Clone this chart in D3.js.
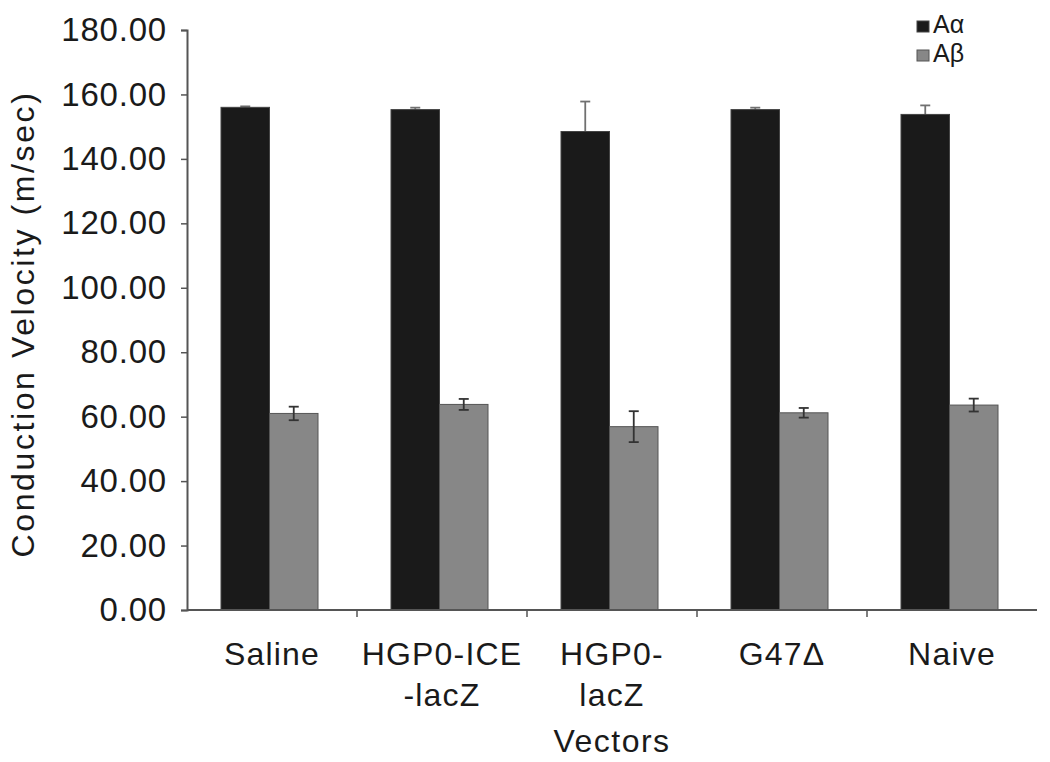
<!DOCTYPE html>
<html><head><meta charset="utf-8">
<script src="https://cdn.jsdelivr.net/npm/d3@7"></script>
<style>
body{margin:0;background:#fff;}
text{font-family:"Liberation Sans",Arial,Helvetica,sans-serif;fill:#1a1a1a;}
</style></head>
<body><svg id="chart" width="1050" height="762"></svg>
<script>
const categories = [["Saline"], ["HGP0-ICE", "-lacZ"], ["HGP0-", "lacZ"], ["G47\u0394"], ["Naive"]];
const categoryKeys = ["Saline", "HGP0-ICE-lacZ", "HGP0-lacZ", "G47\u0394", "Naive"];
const seriesNames = ["A\u03b1", "A\u03b2"];
const aAlpha = [156.0, 155.3, 148.5, 155.3, 153.8];
const aAlphaErr = [0.3, 0.6, 9.3, 0.6, 2.8];
const aBeta = [61.0, 63.8, 56.9, 61.2, 63.6];
const aBetaErr = [2.1, 1.7, 4.8, 1.5, 2.0];
const yTicks = [0, 20, 40, 60, 80, 100, 120, 140, 160, 180];
const colors = ["#1a1a1a", "#878787"];
const strokes = ["#444", "#555"];
const errColors = ["#707070", "#333"];

const svg = d3.select("#chart");
const mLeft = 187, mRight = 1037, mTop = 30, mBottom = 610;

const y = d3.scaleLinear().domain([0, 180]).range([mBottom, mTop]);
const x0 = d3.scaleBand().domain(categoryKeys).range([mLeft, mRight]).padding(0);
const x1 = d3.scaleBand().domain(seriesNames).range([34, 131]).padding(0);

const series = [
  {name: seriesNames[0], values: aAlpha, err: aAlphaErr},
  {name: seriesNames[1], values: aBeta, err: aBetaErr}
];

function drawErr(s, si) {
  const g = svg.append("g").attr("stroke", errColors[si]).attr("stroke-width", 1.8);
  categoryKeys.forEach((d, i) => {
    const cx = x0(d) + x1(s.name) + x1.bandwidth() / 2;
    const hi = y(s.values[i] + s.err[i]), lo = y(s.values[i] - s.err[i]);
    g.append("line").attr("x1", cx).attr("x2", cx).attr("y1", hi).attr("y2", lo);
    g.append("line").attr("x1", cx - 5).attr("x2", cx + 5).attr("y1", hi).attr("y2", hi);
    g.append("line").attr("x1", cx - 5).attr("x2", cx + 5).attr("y1", lo).attr("y2", lo);
  });
}
function drawBars(s, si) {
  svg.append("g").selectAll("rect").data(categoryKeys).join("rect")
    .attr("x", (d) => x0(d) + x1(s.name))
    .attr("y", (d, i) => y(s.values[i]))
    .attr("width", x1.bandwidth())
    .attr("height", (d, i) => y(0) - y(s.values[i]))
    .attr("fill", colors[si])
    .attr("stroke", strokes[si])
    .attr("stroke-width", 1);
}

// Aα: error bars sit behind the bars (only upper whisker shows)
drawErr(series[0], 0);
drawBars(series[0], 0);
// Aβ: error bars on top of bars
drawBars(series[1], 1);
drawErr(series[1], 1);

// y axis
const yAxis = d3.axisLeft(y).tickValues(yTicks).tickFormat(d3.format(".2f")).tickSize(6).tickPadding(14);
const yg = svg.append("g").attr("transform", `translate(${mLeft},0)`).call(yAxis);
yg.select(".domain").attr("stroke", "#555").attr("stroke-width", 2);
yg.selectAll(".tick line").attr("stroke", "#555").attr("stroke-width", 1.5);
yg.selectAll(".tick text").attr("font-size", 33).attr("letter-spacing", 0.8)
  .attr("fill", "#1a1a1a").attr("font-family", "Liberation Sans, Arial, sans-serif");

// x axis
const xg = svg.append("g").attr("transform", `translate(0,${mBottom})`);
xg.append("line").attr("x1", mLeft).attr("x2", mRight).attr("stroke", "#555").attr("stroke-width", 2);
xg.selectAll(".bt").data(categoryKeys.slice(1)).join("line")
  .attr("x1", (d) => x0(d)).attr("x2", (d) => x0(d)).attr("y1", 0).attr("y2", 7)
  .attr("stroke", "#555").attr("stroke-width", 1.5);

// x labels
categoryKeys.forEach((d, i) => {
  const t = svg.append("text").attr("x", x0(d) + x0.bandwidth() / 2).attr("y", 665)
    .attr("text-anchor", "middle").attr("font-size", 32).attr("letter-spacing", 1.2);
  categories[i].forEach((line, li) => {
    t.append("tspan").attr("x", x0(d) + x0.bandwidth() / 2).attr("dy", li === 0 ? 0 : 41).text(line);
  });
});

// axis titles
svg.append("text").attr("x", 612).attr("y", 752).attr("text-anchor", "middle")
  .attr("font-size", 32).attr("letter-spacing", 1.5).text("Vectors");
svg.append("text").attr("transform", `translate(34,${(mTop + mBottom) / 2 + 4}) rotate(-90)`)
  .attr("text-anchor", "middle").attr("font-size", 32).attr("letter-spacing", 2.6)
  .text("Conduction Velocity (m/sec)");

// legend
const lg = svg.append("g").attr("transform", "translate(917,21)");
series.forEach((s, si) => {
  lg.append("rect").attr("x", 0).attr("y", si * 29).attr("width", 12).attr("height", 11)
    .attr("fill", colors[si]).attr("stroke", strokes[si]);
  lg.append("text").attr("x", 16).attr("y", si * 29 + 12).attr("font-size", 25).text(s.name);
});
</script></body></html>
